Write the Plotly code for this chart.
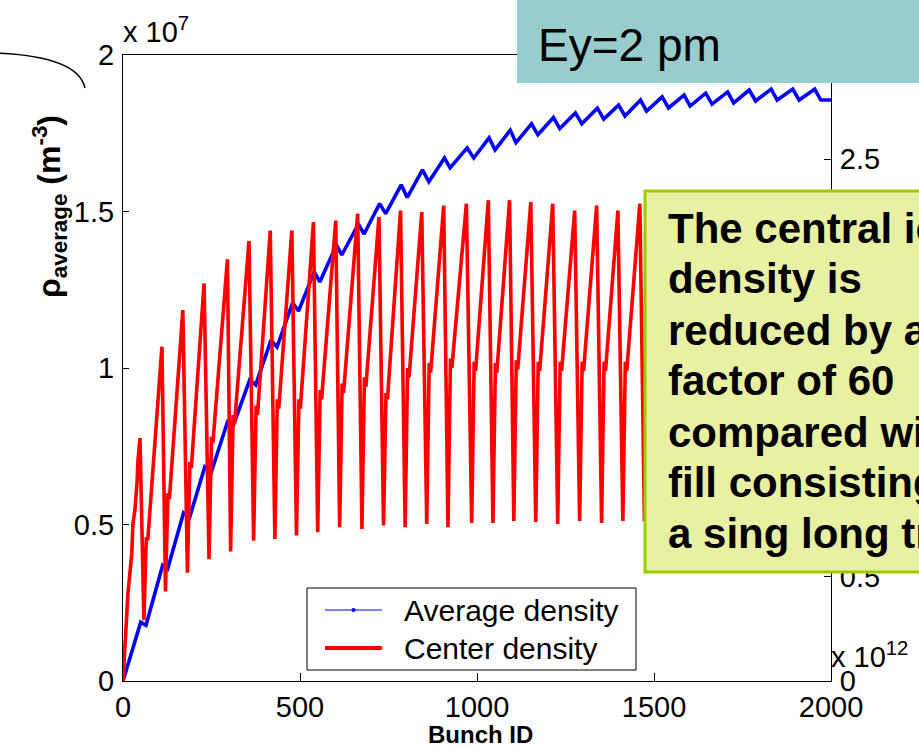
import plotly.graph_objects as go

# ---------------------------------------------------------------- data
# Center density (units of 1e7 m^-3): one sawtooth tooth per bunch train.
first_train_bunch = [0, 6, 11, 14, 20, 25, 28, 34, 40, 42]
first_train_center = [0.0, 0.14, 0.20, 0.28, 0.35, 0.41, 0.50, 0.55, 0.64, 0.70]

peak_bunch = [48, 110, 169, 229, 295, 356, 416, 477, 538, 601, 663, 723, 784, 844,
              906, 970, 1032, 1092, 1152, 1214, 1276, 1338, 1398, 1460, 1521, 1583,
              1644, 1706, 1767, 1829, 1890, 1952]
peak_center = [0.776, 1.068, 1.185, 1.270, 1.347, 1.406, 1.439, 1.439, 1.466, 1.471,
               1.493, 1.482, 1.503, 1.498, 1.519, 1.525, 1.536, 1.536, 1.530, 1.525,
               1.503, 1.519, 1.503, 1.525, 1.520, 1.510, 1.530, 1.520, 1.510, 1.530,
               1.520, 1.520]

trough_bunch = [59, 120, 182, 243, 304, 369, 429, 490, 550, 612, 675, 736, 797, 858,
                918, 985, 1045, 1104, 1166, 1228, 1290, 1352, 1412, 1473, 1535, 1596,
                1658, 1719, 1781, 1842, 1904, 1965]
trough_center = [0.194, 0.286, 0.346, 0.389, 0.414, 0.448, 0.454, 0.465, 0.475, 0.491,
                 0.486, 0.497, 0.491, 0.502, 0.491, 0.505, 0.505, 0.511, 0.508, 0.502,
                 0.511, 0.505, 0.511, 0.510, 0.505, 0.510, 0.508, 0.510, 0.505, 0.510,
                 0.508, 0.510]
# fast rise at the head of each following train, then a small dip
knee_center = [0.46, 0.60, 0.70, 0.78, 0.85, 0.88, 0.90, 0.90, 0.93, 0.95, 0.97, 0.92,
               1.00, 1.016, 1.03, 1.02, 1.016, 1.025, 1.02, 1.02, 1.02, 1.02, 1.02,
               1.02, 1.02, 1.02, 1.02, 1.02, 1.02, 1.02, 1.02, 1.02]
dip_center = [0.45, 0.58, 0.68, 0.76, 0.82, 0.85, 0.87, 0.87, 0.90, 0.92, 0.94, 0.90,
              0.97, 0.985, 1.00, 0.99, 0.985, 0.995, 0.99, 0.99, 0.99, 0.99, 0.99,
              0.99, 0.99, 0.99, 0.99, 0.99, 0.99, 0.99, 0.99, 0.99]
center_last = 1.20

# Average density (units of 1e7 m^-3): value at the end of each train and after the gap
avg_top = [0.188, 0.370, 0.537, 0.684, 0.834, 0.962, 1.089, 1.208, 1.307, 1.393,
           1.460, 1.525, 1.585, 1.633, 1.671, 1.703, 1.735, 1.760, 1.780, 1.800,
           1.815, 1.830, 1.840, 1.856, 1.866, 1.872, 1.878, 1.882, 1.888, 1.891,
           1.891, 1.891]
avg_low = [0.178, 0.358, 0.522, 0.666, 0.812, 0.946, 1.067, 1.182, 1.275, 1.361,
           1.428, 1.493, 1.545, 1.595, 1.639, 1.671, 1.697, 1.720, 1.745, 1.765,
           1.780, 1.795, 1.805, 1.821, 1.831, 1.837, 1.843, 1.847, 1.853, 1.856,
           1.856, 1.856]
avg_last = 1.856

x_ticks = [0, 500, 1000, 1500, 2000]
y2_ticks = [0, 0.5, 1, 1.5, 2, 2.5, 3]
y2_labels = ["0", "0.5", "", "", "", "2.5", ""]   # the rest sit under the banner / note
n_bunches = 2000

# ---------------------------------------------------------------- series
cx = list(first_train_bunch) + [peak_bunch[0]]
cy = list(first_train_center) + [peak_center[0]]
for j in range(len(trough_bunch)):
    cx += [trough_bunch[j], trough_bunch[j] + 7, trough_bunch[j] + 11]
    cy += [trough_center[j], knee_center[j], dip_center[j]]
    if j + 1 < len(peak_bunch):
        cx.append(peak_bunch[j + 1])
        cy.append(peak_center[j + 1])
    else:
        cx.append(n_bunches)
        cy.append(center_last)

ax_, ay_ = [0], [0.0]
for j in range(len(avg_top)):
    ax_ += [peak_bunch[j] + 2, trough_bunch[j] + 6]
    ay_ += [avg_top[j], avg_low[j]]
ax_.append(n_bunches)
ay_.append(avg_last)

# ---------------------------------------------------------------- layout helpers
W, H = 919, 748
ML, MR, MT, MB = 123, 88, 55, 67
PW, PH = W - ML - MR, H - MT - MB


def px(x):
    return (x - ML) / PW


def py(y):
    return (H - MB - y) / PH


FONT = "Liberation Sans, Arial, sans-serif"

fig = go.Figure()
fig.add_trace(go.Scatter(x=ax_, y=ay_, mode="lines", name="Average density",
                         line=dict(color="#0000ff", width=3.6), showlegend=False))
fig.add_trace(go.Scatter(x=cx, y=cy, mode="lines", name="Center density",
                         line=dict(color="#ff0000", width=3.6), showlegend=False))
fig.add_trace(go.Scatter(x=[0], y=[0], yaxis="y2", mode="markers",
                         marker=dict(opacity=0), showlegend=False, hoverinfo="skip"))

axis_common = dict(showline=True, linecolor="black", linewidth=1, ticks="inside",
                   tickcolor="black", showgrid=False, zeroline=False,
                   tickfont=dict(family=FONT, size=29, color="black"))

fig.update_layout(
    width=W, height=H, margin=dict(l=ML, r=MR, t=MT, b=MB),
    paper_bgcolor="white", plot_bgcolor="white", showlegend=False,
    xaxis=dict(range=[0, n_bunches], tickvals=x_ticks, ticklen=8, mirror=True,
               ticklabelstandoff=0, **axis_common),
    yaxis=dict(range=[0, 2], dtick=0.5, ticklen=6, mirror=True,
               ticklabelstandoff=2, **axis_common),
    yaxis2=dict(range=[0, 3], tickvals=y2_ticks, ticktext=y2_labels, ticklen=7,
                overlaying="y", side="right", anchor="x", ticklabelstandoff=2,
                **axis_common),
)

shapes = []
# decorative arc at upper left
shapes.append(dict(type="path", xref="paper", yref="paper", layer="above",
                   path=f"M {px(-5)},{py(53)} Q {px(78)},{py(56)} {px(85)},{py(88)}",
                   line=dict(color="black", width=1.5)))
# legend frame and samples
shapes.append(dict(type="rect", xref="paper", yref="paper", layer="above",
                   x0=px(307), x1=px(636), y0=py(588), y1=py(670),
                   fillcolor="white", line=dict(color="black", width=1)))
shapes.append(dict(type="line", xref="paper", yref="paper", layer="above",
                   x0=px(325), x1=px(382), y0=py(610), y1=py(610),
                   line=dict(color="#0000ff", width=1)))
shapes.append(dict(type="circle", xref="paper", yref="paper", layer="above",
                   x0=px(351.5), x1=px(355.5), y0=py(612), y1=py(608),
                   fillcolor="#0000ff", line=dict(color="#0000ff", width=0)))
shapes.append(dict(type="line", xref="paper", yref="paper", layer="above",
                   x0=px(325), x1=px(382), y0=py(648), y1=py(648),
                   line=dict(color="#ff0000", width=4)))
# title banner
shapes.append(dict(type="rect", xref="paper", yref="paper", layer="above",
                   x0=px(517), x1=px(930), y0=py(-5), y1=py(83),
                   fillcolor="rgb(153,204,204)", line=dict(width=0)))
# note box
shapes.append(dict(type="rect", xref="paper", yref="paper", layer="above",
                   x0=px(645), x1=px(935), y0=py(191), y1=py(572),
                   fillcolor="rgb(232,240,163)", line=dict(color="rgb(153,204,0)", width=3)))
fig.update_layout(shapes=shapes)

ann = []


def text(x, y, s, size, xanchor="left", yanchor="middle", angle=0):
    ann.append(dict(x=px(x), y=py(y), xref="paper", yref="paper", text=s,
                    showarrow=False, xanchor=xanchor, yanchor=yanchor,
                    textangle=angle, borderpad=0,
                    font=dict(family=FONT, size=size, color="black")))


text(122, 49, "x 10<sup>7</sup>", 29, yanchor="bottom")
text(830, 674, "x 10<sup>12</sup>", 29, yanchor="bottom")
text(480, 735, "<b>Bunch ID</b>", 24, xanchor="center")
text(49, 207, "<b>ρ<sub>average</sub> (m<sup>-3</sup>)</b>", 32, xanchor="center", angle=-90)
text(403, 610, "Average density", 30)
text(403, 648, "Center density", 30)
text(537, 45, "Ey=2 pm", 46)

note_lines = ["The central ion", "density is", "reduced by a", "factor of 60",
              "compared with", "fill consisting of", "a sing long train"]
baselines = [243, 293, 345, 395, 447, 497, 548]
for line, base in zip(note_lines, baselines):
    text(667, base - 15, "<b>" + line + "</b>", 42)

fig.update_layout(annotations=ann)
fig.write_html("out.html")
